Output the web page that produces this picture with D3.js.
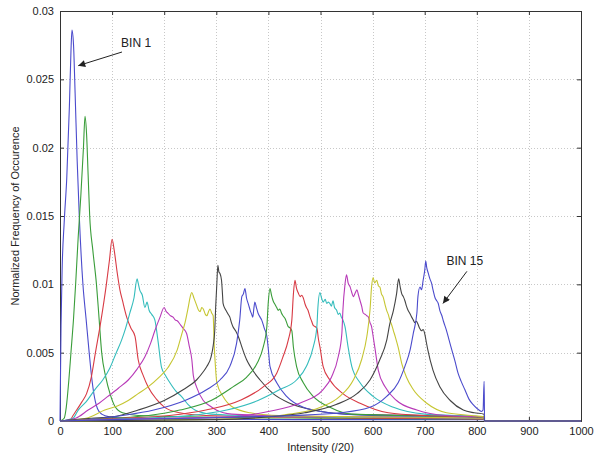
<!DOCTYPE html>
<html>
<head>
<meta charset="utf-8">
<script src="https://cdn.jsdelivr.net/npm/d3@7"></script>
<style>
  body { margin: 0; background: #fff; }
  svg { display: block; }
</style>
</head>
<body>
<svg id="chart" width="595" height="457"></svg>
<script>
// Tick values
const xTicks = [0, 100, 200, 300, 400, 500, 600, 700, 800, 900, 1000];
const yTicks = [0, 0.005, 0.01, 0.015, 0.02, 0.025, 0.03];

// MATLAB default colour cycle (b g r c m y k)
const lineColors = ["#4b4bcc", "#3a9d3a", "#d83a44", "#34bcbc", "#b83ab8", "#c6c632", "#444444"];

// One histogram per intensity bin: [intensity, normalized frequency]
const bin1 = [[0,0],[2,0.007],[4,0.011],[8,0.0145],[13,0.0178],[18,0.023],[21,0.027],[23,0.0286],[26,0.0275],[29,0.024],[33,0.019],[37,0.015],[44,0.010],[50,0.0075],[56,0.005],[62,0.0028],[68,0.0014],[72,0.0009],[80,0.0005],[95,0.0003],[130,0.0002],[250,0.00015],[500,0.0001],[814,0.0001],[815,0],[1000,0]];
const bin2 = [[0,0],[8,0.0002],[12,0.001],[17,0.003],[21,0.005],[26,0.0075],[30,0.010],[35,0.0135],[40,0.0165],[45,0.020],[48,0.0223],[51,0.021],[54,0.018],[57,0.015],[63,0.0125],[70,0.010],[75,0.0075],[80,0.005],[88,0.0032],[96,0.002],[105,0.0011],[120,0.0006],[150,0.0004],[250,0.0003],[500,0.0002],[814,0.00015],[815,0],[1000,0]];
const bin3 = [[0,0],[18,0],[25,0.0004],[32,0.0008],[42,0.0014],[51,0.002],[60,0.0032],[68,0.005],[78,0.0072],[89,0.010],[95,0.0118],[100,0.0133],[104,0.0125],[110,0.0108],[115,0.0096],[120,0.0088],[128,0.0076],[136,0.0068],[144,0.0062],[150,0.0045],[160,0.0033],[169,0.0025],[185,0.0016],[201,0.001],[230,0.0006],[280,0.0004],[400,0.0003],[600,0.0002],[814,0.00015],[815,0],[1000,0]];
const bin4 = [[0,0],[25,0.0002],[35,0.0008],[50,0.0014],[67,0.0023],[82,0.003],[96,0.0039],[108,0.005],[118,0.0059],[126,0.0068],[134,0.0079],[142,0.009],[148,0.0104],[150,0.0101],[153,0.0096],[158,0.0092],[163,0.0083],[167,0.0087],[171,0.0081],[176,0.0078],[182,0.0074],[188,0.0059],[195,0.0039],[203,0.0033],[211,0.0028],[222,0.0022],[233,0.0018],[246,0.0012],[259,0.0008],[290,0.0005],[350,0.0004],[500,0.0003],[814,0.0002],[815,0],[1000,0]];
const bin5 = [[0,0],[30,0.0002],[54,0.0008],[75,0.0013],[92,0.0018],[112,0.0024],[131,0.003],[148,0.0038],[163,0.0047],[174,0.0057],[182,0.0066],[192,0.0076],[200,0.0083],[204,0.008],[207,0.0079],[212,0.0077],[217,0.0076],[221,0.0074],[226,0.0073],[230,0.0071],[236,0.0068],[243,0.0064],[248,0.0055],[253,0.0045],[256,0.0033],[262,0.0025],[275,0.0015],[288,0.0011],[300,0.0008],[330,0.0005],[400,0.0004],[600,0.0003],[814,0.0002],[815,0],[1000,0]];
const bin6 = [[0,0],[50,0.0002],[86,0.0008],[110,0.0011],[131,0.0015],[150,0.002],[169,0.0025],[190,0.0032],[207,0.0039],[225,0.0052],[234,0.0064],[240,0.0072],[246,0.0083],[250,0.0091],[253,0.0094],[257,0.009],[262,0.0085],[266,0.0081],[269,0.008],[272,0.0083],[275,0.0082],[279,0.0078],[282,0.0077],[285,0.008],[288,0.0082],[291,0.0079],[294,0.0077],[296,0.0055],[298,0.0042],[301,0.0028],[313,0.0018],[332,0.001],[365,0.0006],[420,0.0004],[600,0.0003],[814,0.0002],[815,0],[1000,0]];
const bin7 = [[0,0],[60,0.0002],[100,0.0003],[150,0.0008],[200,0.0015],[237,0.0023],[262,0.003],[275,0.0036],[282,0.004],[290,0.0047],[294,0.0055],[297,0.0066],[299,0.0085],[301,0.010],[303,0.0114],[305,0.0109],[307,0.0108],[310,0.0103],[312,0.0092],[313,0.0086],[317,0.0082],[320,0.008],[323,0.0078],[326,0.0076],[329,0.0072],[332,0.0069],[337,0.0066],[342,0.0062],[351,0.0052],[358,0.0045],[365,0.004],[384,0.003],[409,0.002],[441,0.0013],[486,0.0008],[550,0.0005],[700,0.0004],[814,0.0003],[815,0],[1000,0]];
const bin8 = [[0,0],[80,0.0002],[120,0.0004],[180,0.0008],[240,0.0015],[282,0.0023],[307,0.003],[326,0.004],[339,0.0057],[345,0.0074],[349,0.0091],[352,0.0093],[355,0.0097],[358,0.009],[362,0.0085],[365,0.0081],[368,0.0078],[370,0.0076],[372,0.0082],[374,0.0087],[377,0.0083],[380,0.0079],[384,0.0076],[387,0.0074],[392,0.0068],[397,0.0062],[400,0.0052],[403,0.004],[416,0.0028],[435,0.0018],[467,0.001],[518,0.0006],[600,0.0004],[814,0.0003],[815,0],[1000,0]];
const bin9 = [[0,0],[100,0.0002],[170,0.0004],[230,0.0008],[290,0.0015],[332,0.0025],[358,0.0032],[378,0.0042],[390,0.0054],[397,0.0069],[400,0.0088],[403,0.0097],[406,0.0092],[409,0.0088],[413,0.0085],[416,0.0083],[419,0.0081],[422,0.0082],[425,0.0079],[428,0.0077],[432,0.0075],[435,0.0072],[438,0.0069],[442,0.0068],[445,0.0066],[448,0.0054],[454,0.004],[467,0.0028],[486,0.0018],[518,0.001],[560,0.0005],[650,0.0004],[814,0.0003],[815,0],[1000,0]];
const bin10 = [[0,0],[120,0.0002],[210,0.0004],[280,0.0008],[345,0.0015],[390,0.0025],[416,0.0035],[428,0.0047],[438,0.0059],[445,0.0074],[448,0.0093],[451,0.0103],[454,0.0097],[457,0.0094],[461,0.0091],[464,0.0092],[467,0.009],[470,0.0086],[473,0.0083],[476,0.0081],[480,0.0076],[483,0.0073],[486,0.007],[490,0.0069],[493,0.0068],[496,0.006],[499,0.0054],[505,0.004],[518,0.003],[543,0.002],[576,0.0013],[630,0.0006],[700,0.0004],[814,0.0003],[815,0],[1000,0]];
const bin11 = [[0,0],[150,0.0002],[250,0.0004],[320,0.0008],[380,0.0015],[422,0.0023],[454,0.003],[473,0.004],[486,0.0054],[493,0.0069],[495,0.0083],[499,0.0094],[502,0.009],[505,0.0087],[509,0.0089],[512,0.0086],[515,0.0087],[518,0.0086],[521,0.0084],[524,0.0088],[527,0.0083],[531,0.0081],[534,0.0078],[537,0.0079],[540,0.0076],[543,0.0074],[547,0.0069],[553,0.0054],[560,0.004],[576,0.0028],[601,0.0018],[640,0.001],[700,0.0005],[814,0.0003],[815,0],[1000,0]];
const bin12 = [[0,0],[200,0.0002],[330,0.0003],[400,0.0007],[460,0.0013],[505,0.0023],[521,0.0032],[534,0.0047],[541,0.0064],[543,0.0081],[547,0.01],[550,0.0107],[553,0.0101],[557,0.0098],[560,0.0094],[563,0.0091],[567,0.0094],[570,0.0096],[573,0.0092],[576,0.0088],[579,0.0084],[582,0.0079],[586,0.0078],[589,0.0077],[592,0.0076],[595,0.0072],[598,0.0069],[601,0.0062],[605,0.0052],[611,0.0037],[624,0.0025],[646,0.0015],[685,0.0008],[740,0.0004],[814,0.0003],[815,0],[1000,0]];
const bin13 = [[0,0],[250,0.0001],[370,0.0002],[440,0.0005],[500,0.001],[537,0.0018],[563,0.003],[579,0.0045],[589,0.0062],[595,0.0081],[598,0.0098],[601,0.0105],[604,0.0101],[608,0.0103],[611,0.0099],[614,0.0098],[617,0.0093],[620,0.0091],[624,0.0085],[627,0.0081],[630,0.0078],[633,0.0074],[636,0.0071],[640,0.0066],[644,0.0061],[649,0.0054],[656,0.0042],[665,0.0032],[678,0.0023],[704,0.0013],[742,0.0006],[790,0.0004],[814,0.0003],[815,0],[1000,0]];
const bin14 = [[0,0],[300,0.0001],[400,0.0003],[470,0.0006],[530,0.0012],[570,0.002],[595,0.003],[614,0.0045],[627,0.0059],[633,0.0071],[640,0.0081],[646,0.0093],[650,0.0104],[653,0.0098],[656,0.0093],[659,0.0091],[662,0.0088],[665,0.0084],[668,0.0081],[671,0.0079],[675,0.0076],[678,0.0074],[681,0.0072],[684,0.0073],[687,0.0071],[690,0.0068],[694,0.0066],[697,0.0067],[700,0.0064],[703,0.0058],[706,0.0052],[716,0.0037],[729,0.0025],[749,0.0015],[774,0.0008],[795,0.0006],[814,0.0005],[815,0],[1000,0]];
const bin15 = [[0,0],[100,0.0001],[250,0.0002],[350,0.0003],[450,0.0004],[537,0.0006],[595,0.001],[627,0.0018],[649,0.0028],[662,0.004],[672,0.0052],[678,0.0064],[685,0.0079],[687,0.0091],[691,0.0098],[694,0.0096],[697,0.0103],[700,0.011],[702,0.0117],[704,0.0112],[707,0.0108],[710,0.0104],[713,0.0101],[716,0.0096],[720,0.009],[723,0.0088],[726,0.0086],[729,0.0081],[733,0.0077],[736,0.0073],[742,0.0066],[747,0.0059],[752,0.0052],[758,0.0044],[764,0.0035],[770,0.0029],[777,0.0023],[785,0.0016],[793,0.0012],[801,0.0009],[809,0.0007],[812,0.0008],[814,0.0029],[815,0],[1000,0]];

const bins = [bin1, bin2, bin3, bin4, bin5, bin6, bin7, bin8, bin9, bin10, bin11, bin12, bin13, bin14, bin15];

// Annotations: text position and arrow [tail, tip] in data units
const notes = [
    { label: "BIN 1", text: [146, 0.0277], tail: [119, 0.027], tip: [35, 0.026] },
    { label: "BIN 15", text: [777, 0.01175], tail: [781, 0.01095], tip: [735, 0.0086] }
];

const svg = d3.select("#chart"),
    plotLeft = 60, plotRight = 581, plotTop = 11, plotBottom = 421;

const xScale = d3.scaleLinear().domain([0, 1000]).range([plotLeft, plotRight]);
const yScale = d3.scaleLinear().domain([0, 0.03]).range([plotBottom, plotTop]);

const font = "'Liberation Sans', Arial, sans-serif";

// Grid
const grid = svg.append("g")
    .attr("stroke", "#c8c8c8")
    .attr("stroke-width", 1)
    .attr("stroke-dasharray", "1,2");
grid.selectAll(".gx")
    .data(xTicks.slice(1, -1))
    .enter()
    .append("line")
    .attr("x1", d => Math.round(xScale(d)) + 0.5)
    .attr("x2", d => Math.round(xScale(d)) + 0.5)
    .attr("y1", plotTop)
    .attr("y2", plotBottom);
grid.selectAll(".gy")
    .data(yTicks.slice(1, -1))
    .enter()
    .append("line")
    .attr("y1", d => Math.round(yScale(d)) + 0.5)
    .attr("y2", d => Math.round(yScale(d)) + 0.5)
    .attr("x1", plotLeft)
    .attr("x2", plotRight);

// Axes (MATLAB style: ticks inside on all four sides)
const tickLen = 4;
svg.append("g")
    .attr("transform", "translate(0," + plotBottom + ")")
    .call(d3.axisBottom(xScale).tickValues(xTicks).tickSize(-tickLen).tickPadding(6).tickFormat(d3.format("d")));
svg.append("g")
    .attr("transform", "translate(0," + plotTop + ")")
    .call(d3.axisTop(xScale).tickValues(xTicks).tickSize(-tickLen).tickFormat(""));
svg.append("g")
    .attr("transform", "translate(" + plotLeft + ",0)")
    .call(d3.axisLeft(yScale).tickValues(yTicks).tickSize(-tickLen).tickPadding(6).tickFormat(d => d === 0 ? "0" : String(+d.toFixed(3))));
svg.append("g")
    .attr("transform", "translate(" + plotRight + ",0)")
    .call(d3.axisRight(yScale).tickValues(yTicks).tickSize(-tickLen).tickFormat(""));

svg.selectAll(".domain").attr("stroke", "#333");
svg.selectAll(".tick line").attr("stroke", "#333");
svg.selectAll(".tick text")
    .style("font-family", font)
    .style("font-size", "11px")
    .attr("fill", "#222");

// Curves
const line = d3.line()
    .curve(d3.curveMonotoneX)
    .x(d => xScale(d[0]))
    .y(d => yScale(d[1]));

svg.append("g")
    .selectAll("path")
    .data(bins)
    .enter()
    .append("path")
    .attr("d", line)
    .attr("fill", "none")
    .attr("stroke", (d, i) => lineColors[i % lineColors.length])
    .attr("stroke-width", 1.1)
    .attr("stroke-linejoin", "round");

// Axis labels
svg.append("text")
    .attr("x", (plotLeft + plotRight) / 2)
    .attr("y", 451)
    .attr("text-anchor", "middle")
    .style("font-family", font)
    .style("font-size", "11px")
    .attr("fill", "#222")
    .text("Intensity (/20)");

svg.append("text")
    .attr("text-anchor", "middle")
    .attr("transform", "translate(19," + (plotTop + plotBottom) / 2 + ")rotate(-90)")
    .style("font-family", font)
    .style("font-size", "11px")
    .attr("fill", "#222")
    .text("Normalized Frequency of Occurence");

// Annotations
svg.append("defs").append("marker")
    .attr("id", "arrow")
    .attr("viewBox", "0 0 10 10")
    .attr("refX", 10)
    .attr("refY", 5)
    .attr("markerWidth", 9)
    .attr("markerHeight", 7)
    .attr("markerUnits", "userSpaceOnUse")
    .attr("orient", "auto")
    .append("path")
    .attr("d", "M0,0L10,5L0,10z")
    .attr("fill", "#222");

const ann = svg.append("g");
ann.selectAll("line")
    .data(notes)
    .enter()
    .append("line")
    .attr("x1", d => xScale(d.tail[0]))
    .attr("y1", d => yScale(d.tail[1]))
    .attr("x2", d => xScale(d.tip[0]))
    .attr("y2", d => yScale(d.tip[1]))
    .attr("stroke", "#222")
    .attr("stroke-width", 1)
    .attr("marker-end", "url(#arrow)");
ann.selectAll("text")
    .data(notes)
    .enter()
    .append("text")
    .attr("x", d => xScale(d.text[0]))
    .attr("y", d => yScale(d.text[1]))
    .attr("dy", "0.35em")
    .attr("text-anchor", "middle")
    .style("font-family", font)
    .style("font-size", "12px")
    .attr("fill", "#222")
    .text(d => d.label);
</script>
</body>
</html>
